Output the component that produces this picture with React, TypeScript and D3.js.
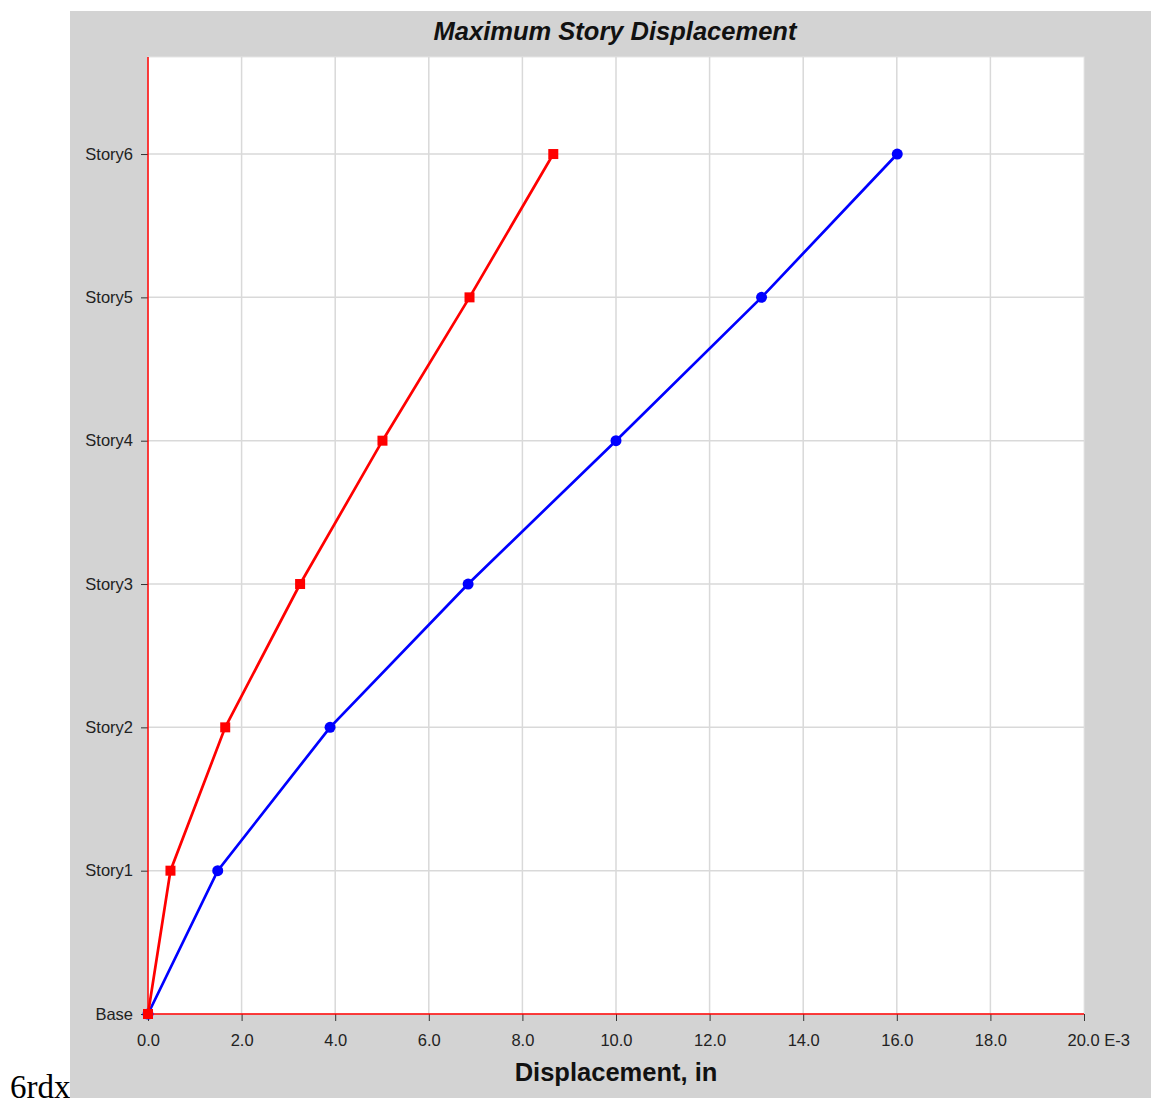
import React, { useEffect, useRef } from 'react'
import * as d3 from 'd3'

const stories = ['Base', 'Story1', 'Story2', 'Story3', 'Story4', 'Story5', 'Story6']
// displacement in E-3 in
const dispRed = [0, 0.48, 1.65, 3.25, 5.01, 6.87, 8.66]
const dispBlue = [0, 1.49, 3.89, 6.84, 10.0, 13.11, 16.01]
const xTicks = [0, 2, 4, 6, 8, 10, 12, 14, 16, 18, 20]

const App = () => {
    const ref = useRef<SVGSVGElement>(null)

    useEffect(() => {
        const svg = d3.select(ref.current)
        svg.selectAll('*').remove()

        const W = 1151
        const H = 1104
        const left = 148, right = 1084, top = 57, bottom = 1014
        const font = 'Liberation Sans, Arial, sans-serif'

        const x = d3.scaleLinear().domain([0, 20]).range([left, right])
        const y = d3.scaleLinear().domain([0, 6.677]).range([bottom, top])

        svg.attr('width', W).attr('height', H)

        // caption text in front of the image
        svg.append('text')
            .attr('x', 10).attr('y', 1098)
            .attr('font-family', 'Liberation Serif, Times New Roman, serif')
            .attr('font-size', 33)
            .attr('fill', '#000')
            .text('6rdx')

        svg.append('rect')
            .attr('x', 70).attr('y', 11)
            .attr('width', W - 70).attr('height', 1098 - 11)
            .attr('fill', '#d3d3d3')

        svg.append('rect')
            .attr('x', left).attr('y', top)
            .attr('width', right - left).attr('height', bottom - top)
            .attr('fill', '#fff')
            .attr('stroke', '#e6e6e6')

        // grid
        svg.append('g')
            .selectAll('line')
            .data(xTicks.slice(1, -1))
            .join('line')
            .attr('x1', d => x(d)).attr('x2', d => x(d))
            .attr('y1', top).attr('y2', bottom)
            .attr('stroke', '#d9d9d9').attr('stroke-width', 1.5)

        svg.append('g')
            .selectAll('line')
            .data(stories.slice(1))
            .join('line')
            .attr('x1', left).attr('x2', right)
            .attr('y1', (d, i) => y(i + 1)).attr('y2', (d, i) => y(i + 1))
            .attr('stroke', '#d9d9d9').attr('stroke-width', 1.5)

        // x axis
        const xAxis = svg.append('g')
            .attr('transform', `translate(0,${bottom})`)
            .call(d3.axisBottom(x).tickValues(xTicks).tickSize(7).tickPadding(13)
                .tickFormat(d => d3.format('.1f')(d as number)))
        xAxis.select('.domain').remove()
        xAxis.selectAll('line').attr('stroke', '#333')
        xAxis.selectAll('text')
            .attr('font-family', font).attr('font-size', 16.5).attr('fill', '#222')
        xAxis.selectAll('.tick').filter(d => d === 20).select('text')
            .attr('text-anchor', 'start').attr('dx', -17)
            .text('20.0 E-3')

        // y axis
        const yAxis = svg.append('g')
            .attr('transform', `translate(${left},0)`)
            .call(d3.axisLeft(y).tickValues(d3.range(stories.length)).tickSize(7).tickPadding(8)
                .tickFormat(d => stories[d as number]))
        yAxis.select('.domain').remove()
        yAxis.selectAll('line').attr('stroke', '#333')
        yAxis.selectAll('text')
            .attr('font-family', font).attr('font-size', 16.5).attr('fill', '#222')

        // red axis lines
        svg.append('line')
            .attr('x1', left).attr('x2', left).attr('y1', top).attr('y2', bottom)
            .attr('stroke', '#ff0000').attr('stroke-width', 1.5)
        svg.append('line')
            .attr('x1', left).attr('x2', right).attr('y1', bottom).attr('y2', bottom)
            .attr('stroke', '#ff0000').attr('stroke-width', 1.5)

        const line = d3.line<number>()
            .x(d => x(d))
            .y((d, i) => y(i))

        // blue series
        svg.append('path')
            .datum(dispBlue)
            .attr('d', line)
            .attr('fill', 'none').attr('stroke', '#0000ff').attr('stroke-width', 2.7)
        svg.append('g')
            .selectAll('circle')
            .data(dispBlue)
            .join('circle')
            .attr('cx', d => x(d)).attr('cy', (d, i) => y(i))
            .attr('r', 5.5).attr('fill', '#0000ff')

        // red series
        svg.append('path')
            .datum(dispRed)
            .attr('d', line)
            .attr('fill', 'none').attr('stroke', '#ff0000').attr('stroke-width', 2.7)
        svg.append('g')
            .selectAll('rect')
            .data(dispRed)
            .join('rect')
            .attr('x', d => x(d) - 5).attr('y', (d, i) => y(i) - 5)
            .attr('width', 10).attr('height', 10).attr('fill', '#ff0000')

        svg.append('text')
            .attr('x', (left + right) / 2 - 1).attr('y', 40)
            .attr('text-anchor', 'middle')
            .attr('font-family', font).attr('font-size', 25.5)
            .attr('font-weight', 'bold').attr('font-style', 'italic')
            .attr('fill', '#111')
            .text('Maximum Story Displacement')

        svg.append('text')
            .attr('x', (left + right) / 2).attr('y', 1081)
            .attr('text-anchor', 'middle')
            .attr('font-family', font).attr('font-size', 25.5)
            .attr('font-weight', 'bold')
            .attr('fill', '#111')
            .text('Displacement, in')
    }, [])

    return <svg ref={ref} style={{ position: 'absolute', left: 0, top: 0, display: 'block' }} />
}

export default App
